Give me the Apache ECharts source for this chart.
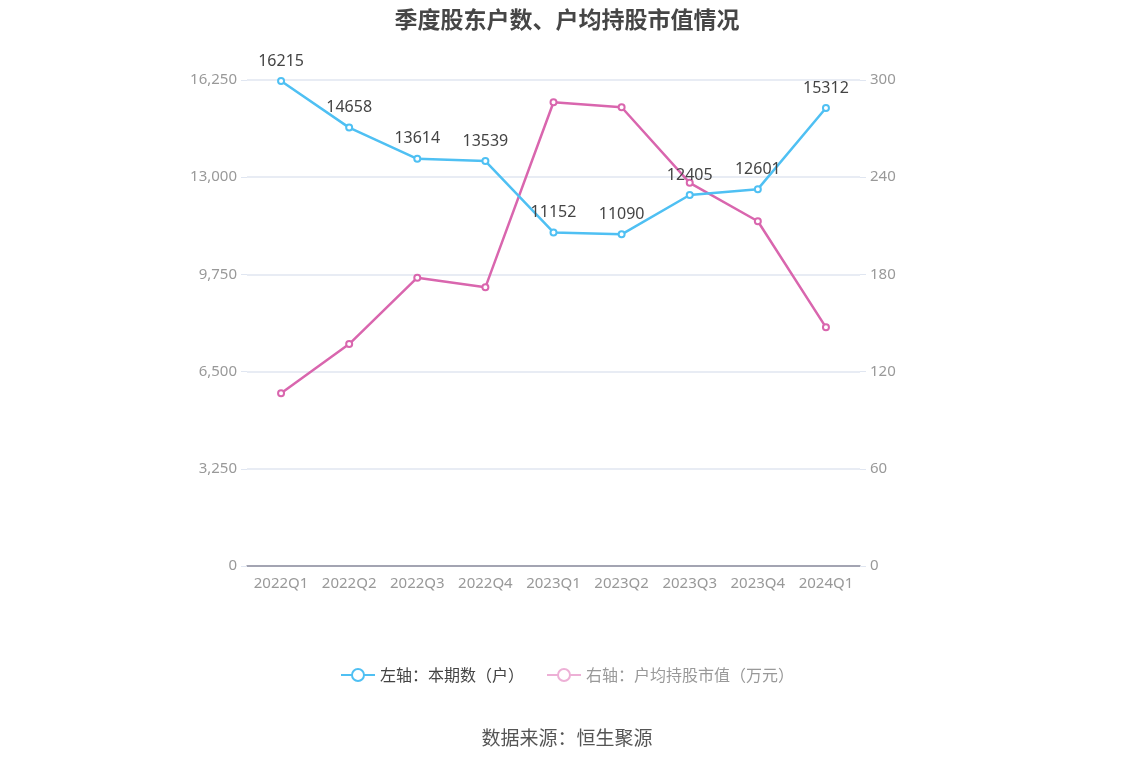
<!DOCTYPE html>
<html><head><meta charset="utf-8">
<script src="https://cdn.jsdelivr.net/npm/echarts@6/dist/echarts.min.js"></script>
<style>html,body{margin:0;padding:0;background:#fff}#c{width:1134px;height:766px}</style>
</head><body><div id="c"></div>
<script>
const categories = ['2022Q1','2022Q2','2022Q3','2022Q4','2023Q1','2023Q2','2023Q3','2023Q4','2024Q1'];
const holders = [16215,14658,13614,13539,11152,11090,12405,12601,15312];
const avgValue = [106.7,137.0,178.0,172.0,286.3,283.2,236.5,212.8,147.3];
const leftTicks = [0,3250,6500,9750,13000,16250];
const rightTicks = [0,60,120,180,240,300];
const name1 = '左轴：本期数（户）';
const name2 = '右轴：户均持股市值（万元）';

const chart = echarts.init(document.getElementById('c'));
chart.setOption({
  animation:false,
  title:{text:'季度股东户数、户均持股市值情况',left:'center',top:3,textStyle:{fontSize:23,fontWeight:'bold',color:'#464646',fontFamily:'Noto Sans CJK SC'}},
  grid:{left:247,right:274,top:80,bottom:200},
  legend:{bottom:78,left:'center',itemWidth:34,itemHeight:15,itemGap:22,textStyle:{fontSize:16,fontFamily:'Noto Sans CJK SC'},
    data:[{name:name1,textStyle:{color:'#444'}},
          {name:name2,textStyle:{color:'#999'},itemStyle:{color:'#EDB0D6',borderColor:'#EDB0D6'},lineStyle:{color:'#EDB0D6'}}]},
  graphic:[{type:'text',left:'center',top:728,style:{text:'数据来源：恒生聚源',fontSize:19,fill:'#555',fontFamily:'Noto Sans CJK SC'}}],
  xAxis:{type:'category',data:categories,boundaryGap:true,
    axisLine:{lineStyle:{color:'#8C8C9C',width:1.5}},axisTick:{alignWithLabel:true,lineStyle:{color:'#8C8C9C'}},
    axisLabel:{color:'#999',fontSize:15,margin:10,interval:0,fontFamily:'Noto Sans'}},
  yAxis:[
    {type:'value',min:leftTicks[0],max:leftTicks[leftTicks.length-1],interval:leftTicks[1]-leftTicks[0],
     axisLine:{show:false},axisTick:{show:true,length:6,lineStyle:{color:'#E0E6F1'}},
     splitLine:{lineStyle:{color:'#E0E6F1',width:1.5}},
     axisLabel:{color:'#999',fontSize:15,margin:10,fontFamily:'Noto Sans',formatter:v=>v.toLocaleString('en-US')}},
    {type:'value',min:rightTicks[0],max:rightTicks[rightTicks.length-1],interval:rightTicks[1]-rightTicks[0],
     axisLine:{show:false},axisTick:{show:true,length:6,lineStyle:{color:'#E0E6F1'}},
     splitLine:{show:false},
     axisLabel:{color:'#999',fontSize:15,margin:10,fontFamily:'Noto Sans'}}
  ],
  series:[
    {name:name1,type:'line',yAxisIndex:0,data:holders,symbol:'emptyCircle',symbolSize:6,
     lineStyle:{color:'#4FC0F3',width:2.5},itemStyle:{color:'#4FC0F3',borderWidth:2},
     label:{show:true,position:'top',distance:8,color:'#444',fontSize:16,fontFamily:'Noto Sans'},z:3},
    {name:name2,type:'line',yAxisIndex:1,data:avgValue,symbol:'emptyCircle',symbolSize:6,
     lineStyle:{color:'#D966AE',width:2.5},itemStyle:{color:'#D966AE',borderWidth:2},z:2}
  ]
});
</script></body></html>
